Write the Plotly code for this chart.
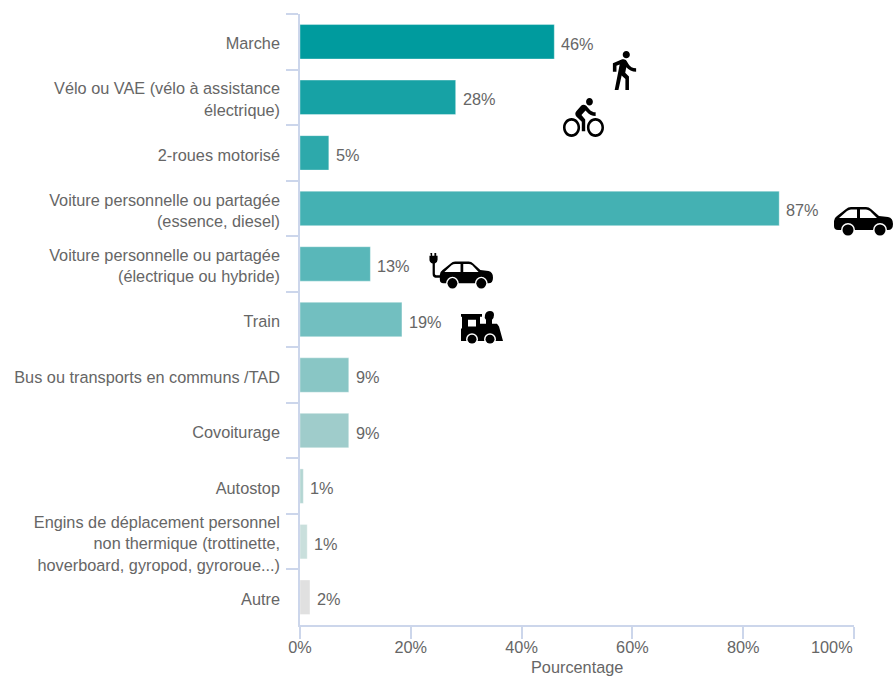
import base64
import plotly.graph_objects as go

categories = [
    "Marche",
    "Vélo ou VAE (vélo à assistance<br>électrique)",
    "2-roues motorisé",
    "Voiture personnelle ou partagée<br>(essence, diesel)",
    "Voiture personnelle ou partagée<br>(électrique ou hybride)",
    "Train",
    "Bus ou transports en communs /TAD",
    "Covoiturage",
    "Autostop",
    "Engins de déplacement personnel<br>non thermique (trottinette,<br>hoverboard, gyropod, gyroroue...)",
    "Autre",
]
values = [45.9, 28.1, 5.2, 86.5, 12.7, 18.4, 8.8, 8.8, 0.6, 1.3, 1.8]
labels = ["46%", "28%", "5%", "87%", "13%", "19%", "9%", "9%", "1%", "1%", "2%"]
colors = ["#009B9E", "#17A2A5", "#2DA9AB", "#44B1B3", "#59B7B9", "#72BFC0",
          "#89C6C5", "#9FCCCB", "#B4D6D3", "#C9DFDC", "#E0E0E0"]
x_ticks = [0, 20, 40, 60, 80, 100]
x_tick_labels = ["0%", "20%", "40%", "60%", "80%", ""]

WALK = '<svg xmlns="http://www.w3.org/2000/svg" viewBox="5.5 1.5 14 21.5"><path d="M13.5 5.5c1.1 0 2-.9 2-2s-.9-2-2-2-2 .9-2 2 .9 2 2 2zM9.8 8.9L7 23h2.1l1.8-8 2.1 2v6h2v-7.5l-2.1-2 .6-3C14.8 12 16.8 13 19 13v-2c-1.9 0-3.5-1-4.3-2.4l-1-1.6c-.4-.6-1-1-1.7-1-.3 0-.5.1-.8.1L6 8.3V13h2V9.6l1.8-.7"/></svg>'
BIKE = '<svg xmlns="http://www.w3.org/2000/svg" viewBox="0 1.5 24 20.5"><path d="M15.5 5.5c1.1 0 2-.9 2-2s-.9-2-2-2-2 .9-2 2 .9 2 2 2zM5 12c-2.8 0-5 2.2-5 5s2.2 5 5 5 5-2.2 5-5-2.2-5-5-5zm0 8.5c-1.9 0-3.5-1.6-3.5-3.5s1.6-3.5 3.5-3.5 3.5 1.6 3.5 3.5-1.6 3.5-3.5 3.5zm5.8-10l2.4-2.4.8.8c1.3 1.3 3 2.1 5.1 2.1V9c-1.5 0-2.7-.6-3.6-1.5l-1.9-1.9c-.5-.4-1-.6-1.6-.6s-1.1.2-1.4.6L7.8 8.4c-.4.4-.6.9-.6 1.4 0 .6.2 1.1.6 1.4L11 14v5h2v-6.2l-2.2-2.3zM19 12c-2.8 0-5 2.2-5 5s2.2 5 5 5 5-2.2 5-5-2.2-5-5-5zm0 8.5c-1.9 0-3.5-1.6-3.5-3.5s1.6-3.5 3.5-3.5 3.5 1.6 3.5 3.5-1.6 3.5-3.5 3.5z"/></svg>'
CAR_BODY = ('<path d="M0 14 Q0 11 3 9 L12 2 Q14 0 17 0 H32 Q35 0 37 2 L45 9 L54 10 Q59 11 59 17 Q59 23 54 23 H4 Q0 23 0 19 Z"/>'
            '<path fill="#fff" d="M5 11 L13 4 Q15 2.500 17 2.500 H23 V11 Z M26 2.500 H32 Q34 2.500 36 4 L43 11 H26 Z"/>'
            '<circle cx="14" cy="23" r="7" fill="#fff"/><circle cx="14" cy="23" r="5.500"/>'
            '<circle cx="46" cy="23" r="7" fill="#fff"/><circle cx="46" cy="23" r="5.500"/>')
CAR = f'<svg xmlns="http://www.w3.org/2000/svg" viewBox="0 0 59 29">{CAR_BODY}</svg>'
ECAR = ('<svg xmlns="http://www.w3.org/2000/svg" viewBox="-12 -9 71 38">'
        '<g>' + CAR_BODY + '</g>'
        '<path d="M-10.500 -9 h2 v3 h2.500 v-3 h2 v3 h1.500 v4 q0 3 -3 4 v11 q0 1.500 1.500 1.500 h5 v2.500 h-6 q-3 0 -3 -4 v-11 q-3.500 -1 -3.500 -4 v-4 h1.500 z"/></svg>')
TRAIN = ('<svg xmlns="http://www.w3.org/2000/svg" viewBox="0 0 42 35">'
         '<path fill-rule="evenodd" d="M0 3 H21 V6 H19 V13 H25 V9 Q23 7 24 4 Q25 0 29 0 Q33 0 33 4 Q33 7 31 9 V13 H36 L38 16 L42 31 H0 V18 H1 V6 H0 Z M7 9 V16 H15 V9 Z"/>'
         '<circle cx="11" cy="29" r="6" fill="#fff"/><circle cx="11" cy="29" r="4.500"/>'
         '<circle cx="29" cy="29" r="6" fill="#fff"/><circle cx="29" cy="29" r="4.500"/></svg>')

PLOT_L, PLOT_R, PLOT_T, PLOT_B = 300, 854, 14, 625


def icon(svg, left, top, right, bottom):
    uri = "data:image/svg+xml;base64," + base64.b64encode(svg.encode()).decode()
    return dict(source=uri, xref="paper", yref="paper",
                x=(left - PLOT_L) / (PLOT_R - PLOT_L),
                y=1 - (top - PLOT_T) / (PLOT_B - PLOT_T),
                sizex=(right - left) / (PLOT_R - PLOT_L),
                sizey=(bottom - top) / (PLOT_B - PLOT_T),
                xanchor="left", yanchor="top", sizing="stretch", layer="above")


FONT = "Liberation Sans, Arial, sans-serif"
AXIS = "#ccd6eb"
TXT = dict(family=FONT, size=16.3, color="#666666")

fig = go.Figure(go.Bar(
    y=categories, x=values, orientation="h", width=0.62,
    marker=dict(color=colors, line=dict(color="rgba(255,255,255,0.35)", width=1)),
    hoverinfo="skip",
))
value_labels = [
    dict(text=t, x=v, y=c, xref="x", yref="y", xanchor="left", yanchor="middle",
         xshift=5, yshift=-2, showarrow=False, font=TXT)
    for t, v, c in zip(labels, values, categories)
]
fig.update_layout(
    width=894, height=677, margin=dict(l=300, r=40, t=14, b=52, autoexpand=False),
    paper_bgcolor="white", plot_bgcolor="white", showlegend=False,
    font=TXT,
    images=[
        icon(WALK, 612, 51, 637, 90),
        icon(BIKE, 563, 98, 604, 137),
        icon(CAR, 834, 207, 893, 236),
        icon(ECAR, 429, 253, 493, 289),
        icon(TRAIN, 461, 311, 503, 345),
    ],
    annotations=value_labels + [
        dict(text="100%", xref="x", x=100, yref="paper", y=0, xanchor="right",
             yanchor="top", yshift=-11, showarrow=False, font=TXT, xshift=1),
        dict(text="Pourcentage", xref="paper", x=(577 - PLOT_L) / (PLOT_R - PLOT_L), yref="paper", y=0,
             xanchor="center", yanchor="top", yshift=-31, showarrow=False, font=TXT),
    ],
)
fig.update_xaxes(
    automargin=False, range=[0, 100], tickvals=x_ticks, ticktext=x_tick_labels, showgrid=False, zeroline=False,
    showline=True, linecolor=AXIS, linewidth=1.5, ticks="outside", ticklen=12, tickcolor=AXIS,
    tickwidth=1.5, ticklabelstandoff=-5,
)
fig.update_yaxes(
    automargin=False, autorange="reversed", showgrid=False, zeroline=False, showline=True, linecolor=AXIS,
    linewidth=1.5, ticks="outside", ticklen=12, tickcolor=AXIS, tickwidth=1.5,
    tickson="boundaries", ticklabelstandoff=15, ticklabelshift=-2,
)
fig.write_html("out.html", config={"displayModeBar": False},
               post_script="document.body.style.margin='0';document.body.style.overflow='hidden';")
